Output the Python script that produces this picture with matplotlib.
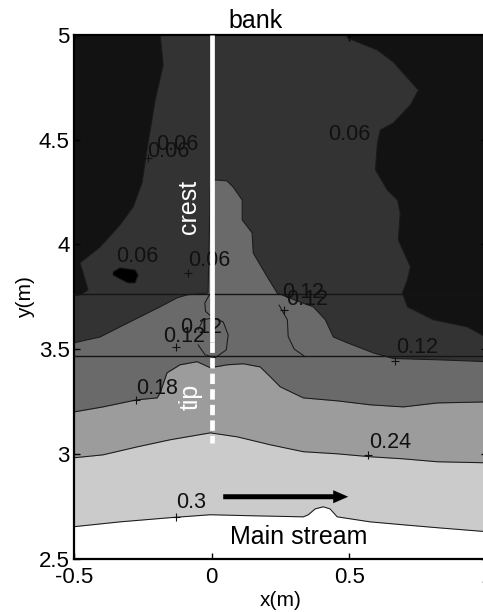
import matplotlib
matplotlib.use('Agg')
import matplotlib.pyplot as plt

plt.rcParams['font.family'] = ['Liberation Sans', 'DejaVu Sans']
plt.rcParams['axes.unicode_minus'] = False

# ---------------- data (metres) ----------------
x_lim = (-0.5, 1.0)
y_lim = (2.5, 5.0)
x_ticks = [-0.5, 0, 0.5, 1]
x_ticklabels = ['-0.5', '0', '0.5', '1']
y_ticks = [2.5, 3, 3.5, 4, 4.5, 5]
y_ticklabels = ['2.5', '3', '3.5', '4', '4.5', '5']

levels = [0.06, 0.12, 0.18, 0.24, 0.30]
level_colors = ['#121212', '#333333', '#6a6a6a', '#9c9c9c', '#cbcbcb', '#ffffff']

# 0.06 contour, upper-left low region (top edge -> left edge)
c06a_x = [-0.187, -0.176, -0.205, -0.231, -0.253, -0.285, -0.333, -0.405, -0.478, -0.449, -0.475, -0.5]
c06a_y = [5.0, 4.857, 4.690, 4.484, 4.294, 4.179, 4.093, 3.988, 3.912, 3.783, 3.760, 3.755]
# 0.06 contour, upper-right low region (top edge -> right edge)
c06b_x = [0.493, 0.493, 0.602, 0.660, 0.711, 0.751, 0.722, 0.660, 0.613, 0.602, 0.595, 0.638,
          0.675, 0.685, 0.678, 0.722, 0.711, 0.693, 0.711, 0.805, 0.929, 1.0]
c06b_y = [5.0, 4.986, 4.928, 4.871, 4.795, 4.737, 4.666, 4.580, 4.547, 4.484, 4.356, 4.260,
          4.212, 4.150, 4.021, 3.893, 3.831, 3.768, 3.702, 3.640, 3.606, 3.554]
# isolated minimum (blob)
blob_x = [-0.358, -0.333, -0.278, -0.267, -0.278, -0.304, -0.340, -0.358]
blob_y = [3.869, 3.888, 3.878, 3.854, 3.816, 3.816, 3.840, 3.854]
# 0.12 contour (left edge -> right edge, including the tongue along the crest)
c12_x = [-0.5, -0.405, -0.333, -0.260, -0.187, -0.125, -0.089, -0.013, -0.009, -0.005, 0.005,
         0.013, 0.056, 0.078, 0.111, 0.111, 0.147, 0.151, 0.202, 0.238, 0.300, 0.369, 0.413,
         0.442, 0.493, 0.587, 0.660, 0.820, 1.0]
c12_y = [3.530, 3.558, 3.606, 3.654, 3.702, 3.745, 3.759, 3.768, 4.021, 4.260, 4.298,
         4.308, 4.303, 4.274, 4.212, 4.117, 4.055, 3.959, 3.845, 3.768, 3.735, 3.702, 3.640,
         3.558, 3.530, 3.482, 3.455, 3.449, 3.440]
# secondary 0.12 lines (no fill change)
c12b_x = [0.245, 0.275, 0.278, 0.300, 0.335]
c12b_y = [3.710, 3.640, 3.560, 3.500, 3.468]
c12c_x = [-0.049, -0.031, 0.005, 0.042, 0.060, 0.053, 0.013, -0.024, -0.049]
c12c_y = [3.592, 3.640, 3.649, 3.630, 3.568, 3.496, 3.459, 3.473, 3.520]
c12d_x = [-0.008, -0.025, -0.022, -0.005]
c12d_y = [3.760, 3.720, 3.680, 3.660]
# 0.18 contour
c18_x = [-0.5, -0.395, -0.271, -0.198, -0.187, -0.162, -0.115, -0.053, -0.005, 0.056, 0.115,
         0.176, 0.213, 0.249, 0.333, 0.456, 0.576, 0.696, 0.820, 1.0]
c18_y = [3.200, 3.224, 3.258, 3.267, 3.291, 3.387, 3.425, 3.440, 3.411, 3.425, 3.430,
         3.415, 3.368, 3.320, 3.267, 3.253, 3.234, 3.224, 3.243, 3.248]
# 0.24 contour
c24_x = [-0.5, -0.395, -0.271, -0.151, -0.005, 0.093, 0.213, 0.333, 0.456, 0.576, 0.696, 0.820, 1.0]
c24_y = [2.981, 2.995, 3.033, 3.067, 3.100, 3.081, 3.043, 3.010, 3.000, 2.986, 2.976, 2.962, 2.957]
# 0.30 contour
c30_x = [-0.5, -0.333, -0.151, -0.005, 0.151, 0.333, 0.351, 0.376, 0.405, 0.430, 0.456,
         0.576, 0.696, 0.820, 1.0]
c30_y = [2.652, 2.675, 2.695, 2.709, 2.704, 2.699, 2.709, 2.737, 2.747, 2.737, 2.699,
         2.675, 2.661, 2.647, 2.628]

# contour labels
lab_text = ['0.06', '0.06', '0.06', '0.06', '0.06', '0.12', '0.12', '0.12', '0.12', '0.12',
            '0.18', '0.24', '0.3']
lab_x = [0.500, -0.158, -0.125, -0.271, -0.009, 0.333, 0.347, -0.038, -0.100, 0.747,
         -0.198, 0.649, -0.075]
lab_y = [4.523, 4.446, 4.475, 3.940, 3.921, 3.768, 3.735, 3.601, 3.560, 3.506,
         3.310, 3.053, 2.766]
plus_x = [-0.231, -0.085, 0.264, -0.129, 0.667, -0.275, 0.569, -0.129]
plus_y = [4.413, 3.864, 3.687, 3.511, 3.444, 3.258, 2.995, 2.699]

# reference lines
hline_y = [3.764, 3.468]
crest_x = 0.0
crest_top, crest_split, tip_bottom = 5.0, 3.535, 3.05

# ---------------- figure ----------------
fig = plt.figure(figsize=(4.83, 6.12), dpi=100)
ax = fig.add_axes([0.1532, 0.0874, 0.855, 0.8554])
ax.set_xlim(x_lim)
ax.set_ylim(y_lim)
ax.set_facecolor(level_colors[1])

line_kw = dict(color='#1a1a1a', lw=0.75, zorder=2)

ax.fill(c06a_x + [x_lim[0]], c06a_y + [y_lim[1]], color=level_colors[0], lw=0, zorder=1)
ax.fill(c06b_x + [x_lim[1]], c06b_y + [y_lim[1]], color=level_colors[0], lw=0, zorder=1)
ax.fill(blob_x, blob_y, color='#000000', lw=0, zorder=1)
ax.fill(c12_x + [x_lim[1], x_lim[0]], c12_y + [y_lim[0], y_lim[0]],
        color=level_colors[2], lw=0, zorder=1)
ax.fill_between(c18_x, y_lim[0], c18_y, color=level_colors[3], lw=0, zorder=1)
ax.fill_between(c24_x, y_lim[0], c24_y, color=level_colors[4], lw=0, zorder=1)
ax.fill_between(c30_x, y_lim[0], c30_y, color=level_colors[5], lw=0, zorder=1)

for cx, cy in [(c06a_x, c06a_y), (c06b_x, c06b_y), (blob_x, blob_y), (c12_x, c12_y),
               (c12b_x, c12b_y), (c12c_x, c12c_y), (c12d_x, c12d_y),
               (c18_x, c18_y), (c24_x, c24_y), (c30_x, c30_y)]:
    ax.plot(cx, cy, **line_kw)

for hy in hline_y:
    ax.axhline(hy, color='#151515', lw=1.0, zorder=3)

for t, lx, ly in zip(lab_text, lab_x, lab_y):
    ax.text(lx, ly, t, fontsize=15.5, ha='center', va='center', color='#111111', zorder=4)
ax.plot(plus_x, plus_y, ls='none', marker='+', ms=6, mew=0.8, color='#111111', zorder=4)

# crest / tip white line
ax.plot([crest_x, crest_x], [crest_top, crest_split], color='white', lw=3.4,
        solid_capstyle='butt', zorder=5)
ax.plot([crest_x, crest_x], [crest_split, tip_bottom], color='white', lw=3.4,
        dashes=(2.2, 1.1), dash_capstyle='butt', zorder=5)
ax.text(-0.082, 4.179, 'crest', rotation=90, color='white', fontsize=18,
        ha='center', va='center', zorder=6)
ax.text(-0.075, 3.272, 'tip', rotation=90, color='white', fontsize=18,
        ha='center', va='center', zorder=6)

# annotations
ax.text(0.158, 5.033, 'bank', fontsize=18, ha='center', va='baseline', clip_on=False)
ax.text(0.316, 2.570, 'Main stream', fontsize=18, ha='center', va='baseline', zorder=6)
ax.annotate('', xy=(0.496, 2.795), xytext=(0.042, 2.795),
            arrowprops=dict(arrowstyle='simple,head_length=1.08,head_width=0.94,tail_width=0.36',
                            color='black', lw=0, mutation_scale=10, shrinkA=0, shrinkB=0),
            zorder=6)

ax.set_xticks(x_ticks)
ax.set_xticklabels(x_ticklabels)
ax.set_yticks(y_ticks)
ax.set_yticklabels(y_ticklabels)
ax.tick_params(direction='in', top=True, right=True, length=4, width=1,
               labelsize=16, pad=3, colors='black')
ax.tick_params(axis='x', pad=6)
for s in ax.spines.values():
    s.set_linewidth(1.6)
    s.set_color('black')
ax.set_xlabel('x(m)', fontsize=15, labelpad=2)
ax.set_ylabel('y(m)', fontsize=15, labelpad=3)

fig.savefig('out.png', dpi=100)
